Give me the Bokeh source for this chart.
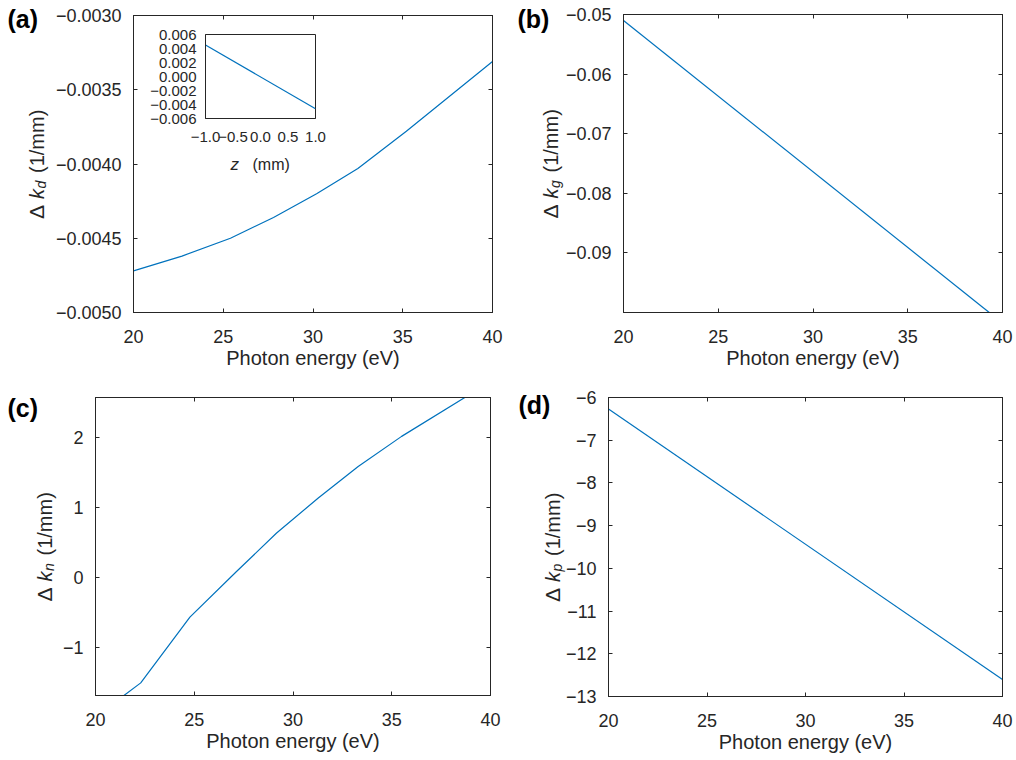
import math
from bokeh.plotting import figure
from bokeh.models import (Range1d, FixedTicker, LinearAxis, GridBox,
                          CustomJSTickFormatter)
from bokeh.core.properties import value
from bokeh.embed import file_html
from bokeh.resources import INLINE

FONT = "Liberation Sans"
AX = "#262626"
BLUE = "#0072BD"
TICK_FS = "18px"
LAB_FS = "20px"

# ---------------- data ----------------
energy_ticks = [20, 25, 30, 35, 40]
energy_tick_labels = ["20", "25", "30", "35", "40"]

# (a) Delta k_d
energy_a = [20.0, 22.7, 25.4, 27.8, 30.2, 32.5, 35.2, 40.0]
dk_d = [-0.00472, -0.00462, -0.00450, -0.00436, -0.00420, -0.00403, -0.00378, -0.00331]
ticks_a = [-0.005, -0.0045, -0.004, -0.0035, -0.003]
tick_labels_a = ["\u22120.0050", "\u22120.0045", "\u22120.0040", "\u22120.0035", "\u22120.0030"]

# inset of (a)
z_mm = [-1.0, 1.0]
dk_z = [0.0045, -0.0046]
z_ticks = [-1.0, -0.5, 0.0, 0.5, 1.0]
z_tick_labels = ["\u22121.0", "\u22120.5", "0.0", "0.5", "1.0"]
inset_y_ticks = [-0.006, -0.004, -0.002, 0.0, 0.002, 0.004, 0.006]
inset_y_tick_labels = ["\u22120.006", "\u22120.004", "\u22120.002", "0.000", "0.002", "0.004", "0.006"]

# (b) Delta k_g
energy_b = [20.0, 39.3]
dk_g = [-0.0510, -0.1000]
ticks_b = [-0.09, -0.08, -0.07, -0.06, -0.05]
tick_labels_b = ["\u22120.09", "\u22120.08", "\u22120.07", "\u22120.06", "\u22120.05"]

# (c) Delta k_n
energy_c = [21.44, 22.29, 24.78, 27.14, 29.17, 31.28, 33.3, 35.5, 38.7]
dk_n = [-1.68, -1.50, -0.56, 0.09, 0.64, 1.14, 1.59, 2.02, 2.575]
ticks_c = [-1, 0, 1, 2]
tick_labels_c = ["\u22121", "0", "1", "2"]

# (d) Delta k_p
energy_d = [20.0, 40.0]
dk_p = [-6.27, -12.60]
ticks_d = [-13, -12, -11, -10, -9, -8, -7, -6]
tick_labels_d = ["\u221213", "\u221212", "\u221211", "\u221210", "\u22129", "\u22128", "\u22127", "\u22126"]


def cfg_axis(ax, ticks, labels, fs, standoff, tick_in=4):
    ax.ticker = FixedTicker(ticks=ticks)
    ax.major_label_overrides = {t: l for t, l in zip(ticks, labels)}
    ax.major_tick_in = tick_in
    ax.major_tick_out = 0
    ax.minor_tick_line_color = None
    ax.axis_line_color = AX
    ax.major_tick_line_color = AX
    ax.major_label_text_color = AX
    ax.major_label_text_font = FONT
    ax.major_label_text_font_size = fs
    ax.major_label_standoff = standoff


def blank_axis(p, ticks, loc):
    ax = LinearAxis(ticker=FixedTicker(ticks=ticks),
                    formatter=CustomJSTickFormatter(code="return ''"))
    ax.major_tick_in = 4
    ax.major_tick_out = 0
    ax.minor_tick_line_color = None
    ax.axis_line_color = AX
    ax.major_tick_line_color = AX
    ax.major_label_text_font_size = "1px"
    ax.major_label_standoff = 0
    p.add_layout(ax, loc)


def panel(g, yr, yticks, ylabels, xs, ys):
    x0, y0, W, H, L, R, T, B = g
    p = figure(width=W, height=H, x_range=Range1d(20, 40), y_range=Range1d(*yr),
               output_backend="svg", toolbar_location=None, tools="",
               min_border_left=L, min_border_right=R,
               min_border_top=T, min_border_bottom=B)
    p.frame_align = False
    p.grid.visible = False
    p.outline_line_color = AX
    p.background_fill_color = "white"
    p.border_fill_color = "white"
    cfg_axis(p.below[0], energy_ticks, energy_tick_labels, TICK_FS, 17)
    cfg_axis(p.left[0], yticks, ylabels, TICK_FS, 12)
    xa = p.below[0]
    xa.axis_label = "Photon energy (eV)"
    xa.axis_label_text_font = FONT
    xa.axis_label_text_font_size = LAB_FS
    xa.axis_label_text_font_style = "normal"
    xa.axis_label_text_color = AX
    xa.axis_label_standoff = 1
    blank_axis(p, energy_ticks, "above")
    blank_axis(p, yticks, "right")
    p.line(xs, ys, line_color=BLUE, line_width=1.2)
    return p


# geometry: x0, y0, W, H, min_border_left, right, top, bottom
g_a = (0, 0, 508, 380, 133, 16, 15, 68)
g_b = (508, 0, 508, 380, 115, 14, 14, 68)
g_c = (0, 380, 508, 380, 95, 18, 17, 65)
g_d = (508, 380, 508, 380, 100, 14, 17, 64)

pa = panel(g_a, (-0.005, -0.003), ticks_a, tick_labels_a, energy_a, dk_d)
pb = panel(g_b, (-0.1, -0.05), ticks_b, tick_labels_b, energy_b, dk_g)
pc = panel(g_c, (-1.68, 2.575), ticks_c, tick_labels_c, energy_c, dk_n)
pd = panel(g_d, (-13, -6), ticks_d, tick_labels_d, energy_d, dk_p)

# ---------------- inset ----------------
iL, iR, iT, iB = 205, 193, 34, 262
pin = figure(width=508, height=380, x_range=Range1d(-1, 1), y_range=Range1d(-0.006, 0.006),
             output_backend="svg", toolbar_location=None, tools="",
             min_border_left=iL, min_border_right=iR, min_border_top=iT, min_border_bottom=iB)
pin.frame_align = False
pin.grid.visible = False
pin.outline_line_color = AX
pin.background_fill_color = "white"
pin.border_fill_color = None
cfg_axis(pin.below[0], z_ticks, z_tick_labels, "15px", 13, tick_in=0)
cfg_axis(pin.left[0], inset_y_ticks, inset_y_tick_labels, "15px", 9, tick_in=0)
pin.line(z_mm, dk_z, line_color=BLUE, line_width=1.2)

# ---------------- overlay for rich text labels (page pixel coordinates) ----------------
ov = figure(width=1016, height=760, x_range=Range1d(0, 1016), y_range=Range1d(760, 0),
            output_backend="svg", toolbar_location=None, tools="",
            x_axis_type=None, y_axis_type=None,
            min_border_left=0, min_border_right=0, min_border_top=0, min_border_bottom=0)
ov.frame_align = False
ov.grid.visible = False
ov.outline_line_color = None
ov.background_fill_color = None
ov.border_fill_color = None


def put(x, y, txt, size, style="normal", angle=0.0, color=AX, baseline="alphabetic"):
    ov.text(x=[x], y=[y], text=[txt], angle=angle, text_font=value(FONT),
            text_font_size=size, text_font_style=style, text_color=color,
            text_align="left", text_baseline=baseline)


# panel tags
for tx, ty, tag in [(7, 18, "(a)"), (517, 18, "(b)"), (7, 407, "(c)"), (518, 404, "(d)")]:
    put(tx, ty, tag, "25px", "bold", color="black", baseline="middle")


def ylabel(g, base_x, sub):
    x0, y0, W, H, L, R, T, B = g
    center = y0 + T + (H - T - B) / 2.0
    start = center + 55
    pieces = [("\u0394", 0, 0, "normal", "21px"),
              ("k", 20, 0, "italic", "20px"),
              (sub, 30.5, 4, "italic", "14px"),
              ("(1/mm)", 46, 0, "normal", "20px")]
    for txt, off, dx, style, fs in pieces:
        put(base_x + dx, start - off, txt, fs, style, angle=math.pi / 2)


ylabel(g_a, 36, "d")
ylabel(g_b, 550, "g")
ylabel(g_c, 44, "n")
ylabel(g_d, 552, "p")

# inset x label
put(230, 164, "z", "17px", "italic")
put(252, 164, "(mm)", "16px")

grid = GridBox(children=[(pa, 0, 0), (pin, 0, 0), (pb, 0, 1), (pc, 1, 0), (pd, 1, 1),
                         (ov, 0, 0, 2, 2)])

open("out.html", "w").write(file_html(grid, INLINE))
